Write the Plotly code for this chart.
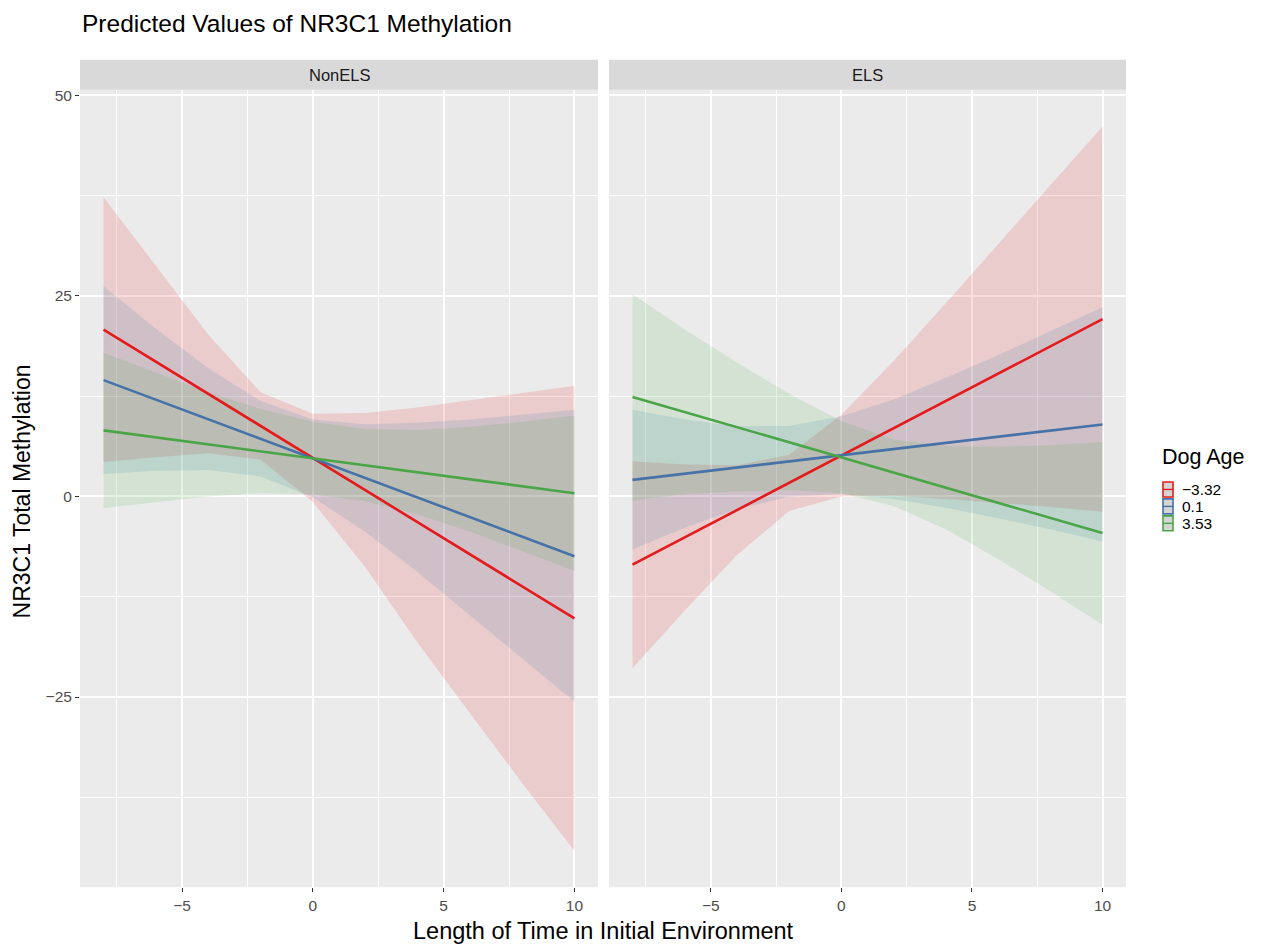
import plotly.graph_objects as go

W, H = 1266, 947

# ---------------- data ----------------
x_vals = [-8, -6, -4, -2, 0, 2, 4, 6, 8, 10]
panels = ["NonELS", "ELS"]
age_labels = ["\u22123.32", "0.1", "3.53"]

# NonELS panel
nonels_red_pred = [20.8, 16.8, 12.8, 8.8, 4.8, 0.8, -3.2, -7.2, -11.2, -15.2]
nonels_red_lo = [4.3, 4.9, 5.4, 4.6, -0.7, -8.8, -18.2, -27.0, -35.7, -44.2]
nonels_red_hi = [37.3, 28.7, 20.2, 13.0, 10.3, 10.4, 11.1, 12.0, 12.9, 13.8]
nonels_blue_pred = [14.5, 12.06, 9.63, 7.19, 4.75, 2.31, -0.13, -2.56, -5.0, -7.44]
nonels_blue_lo = [2.8, 3.2, 3.3, 2.5, -0.1, -4.4, -9.4, -14.7, -20.2, -25.6]
nonels_blue_hi = [26.2, 20.9, 16.0, 11.9, 9.6, 9.0, 9.2, 9.6, 10.2, 10.8]
nonels_green_pred = [8.24, 7.37, 6.5, 5.63, 4.76, 3.89, 3.02, 2.15, 1.28, 0.41]
nonels_green_lo = [-1.45, -0.7, 0.0, 0.4, 0.25, -0.6, -2.2, -4.4, -6.8, -9.3]
nonels_green_hi = [17.9, 15.4, 13.0, 10.9, 9.3, 8.4, 8.3, 8.7, 9.3, 10.1]

# ELS panel
els_red_pred = [-8.5, -5.1, -1.7, 1.7, 5.1, 8.5, 11.9, 15.3, 18.7, 22.1]
els_red_lo = [-21.4, -14.2, -7.3, -1.8, 0.0, 0.1, -0.3, -0.8, -1.3, -1.9]
els_red_hi = [4.4, 4.0, 3.9, 5.2, 10.2, 16.9, 24.1, 31.4, 38.8, 46.1]
els_blue_pred = [2.07, 2.84, 3.6, 4.37, 5.14, 5.91, 6.68, 7.44, 8.21, 8.98]
els_blue_lo = [-6.6, -3.9, -1.6, 0.0, 0.3, -0.3, -1.4, -2.7, -4.1, -5.6]
els_blue_hi = [10.8, 9.6, 8.8, 8.8, 10.0, 12.1, 14.8, 17.6, 20.6, 23.6]
els_green_pred = [12.41, 10.53, 8.64, 6.76, 4.87, 2.98, 1.1, -0.79, -2.67, -4.56]
els_green_lo = [-0.5, 0.3, 0.6, 0.8, 0.4, -1.2, -4.1, -7.8, -11.8, -16.0]
els_green_hi = [25.2, 20.8, 16.7, 12.8, 9.4, 7.1, 6.3, 6.2, 6.4, 6.8]

x_ticks = [-5, 0, 5, 10]
y_ticks = [-25, 0, 25, 50]

# ---------------- style ----------------
line_colors = ["#E41A1C", "#4672A8", "#4AA547"]
fill_colors = ["rgba(228,26,28,0.15)", "rgba(55,126,184,0.15)", "rgba(77,175,74,0.15)"]
FONT = "Liberation Sans, Arial, Helvetica, sans-serif"

def px_x(p):
    return p / W

def px_y(p):
    return 1 - p / H

dom1 = [px_x(80), px_x(598)]
dom2 = [px_x(609), px_x(1126)]
ydom = [px_y(887), px_y(87)]

fig = go.Figure()

panel_data = {
    "NonELS": [
        (nonels_red_pred, nonels_red_lo, nonels_red_hi),
        (nonels_blue_pred, nonels_blue_lo, nonels_blue_hi),
        (nonels_green_pred, nonels_green_lo, nonels_green_hi),
    ],
    "ELS": [
        (els_red_pred, els_red_lo, els_red_hi),
        (els_blue_pred, els_blue_lo, els_blue_hi),
        (els_green_pred, els_green_lo, els_green_hi),
    ],
}

for pi, pname in enumerate(panels):
    xa = "x" if pi == 0 else "x2"
    ya = "y" if pi == 0 else "y2"
    series = panel_data[pname]
    for si, (pred, lo, hi) in enumerate(series):
        fig.add_trace(go.Scatter(
            x=x_vals + x_vals[::-1], y=hi + lo[::-1],
            fill="toself", fillcolor=fill_colors[si],
            line=dict(width=0), mode="lines", hoverinfo="skip",
            showlegend=False, xaxis=xa, yaxis=ya,
        ))
    for si, (pred, lo, hi) in enumerate(series):
        fig.add_trace(go.Scatter(
            x=x_vals, y=pred, mode="lines",
            line=dict(color=line_colors[si], width=2.6),
            name=age_labels[si], showlegend=False, xaxis=xa, yaxis=ya,
        ))

TICKFONT = dict(family=FONT, size=15.5, color="#4D4D4D")
xaxis_common = dict(
    range=[-8.9, 10.9], tickvals=x_ticks, ticktext=["\u22125", "0", "5", "10"],
    showgrid=True, gridcolor="white", gridwidth=1.6, zeroline=False,
    ticks="outside", ticklen=4, tickcolor="#333333", tickwidth=1,
    tickfont=TICKFONT,
    minor=dict(tickvals=[-7.5, -2.5, 2.5, 7.5], showgrid=True, gridcolor="white", gridwidth=0.7, ticks=""),
    showline=False, fixedrange=True,
)
yaxis_common = dict(
    range=[-48.7, 50.7], tickvals=y_ticks, ticktext=["\u221225", "0", "25", "50"],
    showgrid=True, gridcolor="white", gridwidth=1.6, zeroline=False,
    ticks="outside", ticklen=4, tickcolor="#333333", tickwidth=1,
    tickfont=TICKFONT,
    minor=dict(tickvals=[-37.5, -12.5, 12.5, 37.5], showgrid=True, gridcolor="white", gridwidth=0.7, ticks=""),
    showline=False, fixedrange=True, domain=ydom,
)

fig.update_layout(
    width=W, height=H,
    margin=dict(l=0, r=0, t=0, b=0),
    paper_bgcolor="white", plot_bgcolor="#EBEBEB",
    xaxis=dict(domain=dom1, anchor="y", **xaxis_common),
    xaxis2=dict(domain=dom2, anchor="y2", **xaxis_common),
    yaxis=dict(anchor="x", **yaxis_common),
    yaxis2=dict(anchor="x2", matches="y", **{**yaxis_common, "showticklabels": False, "ticks": ""}),
    showlegend=False,
    font=dict(family=FONT),
)

shapes = []
annotations = []
# strips
for dom, name in [(dom1, panels[0]), (dom2, panels[1])]:
    shapes.append(dict(type="rect", xref="paper", yref="paper",
                       x0=dom[0], x1=dom[1], y0=px_y(87), y1=px_y(57),
                       fillcolor="#D9D9D9", line=dict(width=0), layer="below"))
    annotations.append(dict(text=name, xref="paper", yref="paper",
                            x=(dom[0] + dom[1]) / 2, y=px_y(72), showarrow=False,
                            xanchor="center", yanchor="middle",
                            font=dict(family=FONT, size=16.5, color="#1A1A1A")))

# title and axis titles
annotations.append(dict(text="Predicted Values of NR3C1 Methylation", xref="paper", yref="paper",
                        x=px_x(80), y=px_y(21), xanchor="left", yanchor="middle", showarrow=False,
                        font=dict(family=FONT, size=24.5, color="black")))
annotations.append(dict(text="Length of Time in Initial Environment", xref="paper", yref="paper",
                        x=px_x(603), y=px_y(931), xanchor="center", yanchor="middle", showarrow=False,
                        font=dict(family=FONT, size=23.5, color="black")))
annotations.append(dict(text="NR3C1 Total Methylation", xref="paper", yref="paper",
                        x=px_x(22), y=px_y(490), xanchor="center", yanchor="middle", showarrow=False,
                        textangle=-90, font=dict(family=FONT, size=23, color="black")))

# legend (manual)
annotations.append(dict(text="Dog Age", xref="paper", yref="paper",
                        x=px_x(1160), y=px_y(455), xanchor="left", yanchor="middle", showarrow=False,
                        font=dict(family=FONT, size=21.5, color="black")))
key_y = [488, 505, 522]
for i, lab in enumerate(age_labels):
    cy = key_y[i]
    shapes.append(dict(type="rect", xref="paper", yref="paper",
                       x0=px_x(1163), x1=px_x(1173), y0=px_y(cy + 7.5), y1=px_y(cy - 7.5),
                       fillcolor="#D5D5D5", line=dict(color=line_colors[i], width=1.6)))
    shapes.append(dict(type="line", xref="paper", yref="paper",
                       x0=px_x(1163), x1=px_x(1173), y0=px_y(cy), y1=px_y(cy),
                       line=dict(color=line_colors[i], width=1.4)))
    annotations.append(dict(text=lab, xref="paper", yref="paper",
                            x=px_x(1180), y=px_y(cy), xanchor="left", yanchor="middle", showarrow=False,
                            font=dict(family=FONT, size=15.5, color="black")))

fig.update_layout(shapes=shapes, annotations=annotations)
fig.write_html("out.html", config={"displayModeBar": False},
               post_script="document.body.style.margin='0';document.body.style.padding='0';")
